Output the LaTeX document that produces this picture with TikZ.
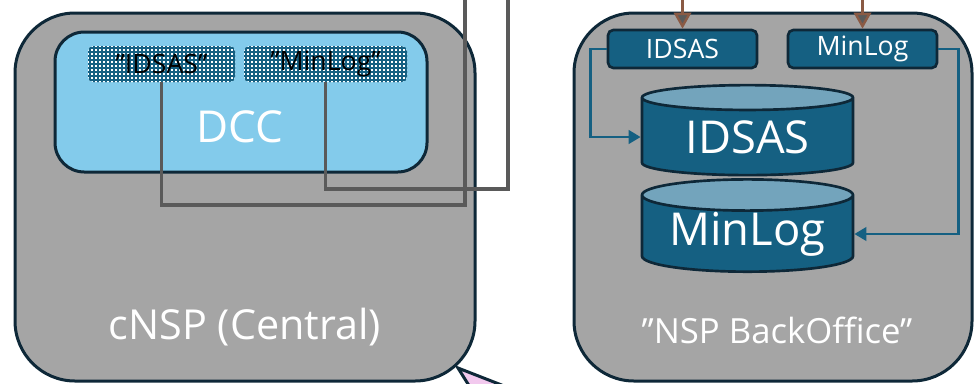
\documentclass[tikz,border=0pt]{standalone}
\usepackage{fontspec}
\setmainfont{Open Sans}
\usetikzlibrary{shapes.geometric}
\usetikzlibrary{arrows.meta,calc}

\definecolor{boxgray}{HTML}{A5A5A5}
\definecolor{navy}{HTML}{0E2838}
\definecolor{dccblue}{HTML}{83CBEB}
\definecolor{nspblue}{HTML}{156082}
\definecolor{nsplight}{HTML}{73A4BC}
\definecolor{linegray}{HTML}{5A5A5A}
\definecolor{feedbrown}{HTML}{8A5A44}
\definecolor{calloutpink}{HTML}{F2C9EE}

\tikzset{
  sitebox/.style={rectangle, rounded corners=45pt, fill=boxgray, draw=navy, line width=2.25pt},
  sitetext/.style={text=white, inner sep=0pt},
  tagbox/.style={rectangle, rounded corners=4pt, fill=white, minimum height=27pt, inner sep=0pt, font=\fontsize{20}{24}\selectfont,
    path picture={\foreach \i in {0,...,41} \foreach \j in {0,...,9}
      \fill [nspblue] ($(path picture bounding box.north west)+(\i*4+1.2,\j*4+1.2)$) rectangle ++(1.6,1.6);}},
  tablebox/.style={rectangle, rounded corners=4pt, fill=nspblue, draw=navy, line width=2pt, minimum width=111.75pt, minimum height=28.5pt, inner sep=0pt, text=white, font=\fontsize{20}{24}\selectfont},
  store/.style={cylinder, shape border rotate=90, aspect=0.2, cylinder uses custom fill, cylinder body fill=nspblue, cylinder end fill=nsplight, draw=navy, line width=2pt, minimum width=158.25pt, inner sep=0pt, text=white, font=\fontsize{34}{38}\selectfont},
  feed/.style={draw=linegray, line width=2.6pt},
  push/.style={draw=feedbrown, line width=1.8pt, -{Triangle[length=12pt,width=13pt,fill=linegray]}},
  dbflow/.style={draw=nspblue, line width=2.2pt, -{Triangle[length=9pt,width=10pt]}}
}

\begin{document}
\begin{tikzpicture}[x=0.75pt,y=-0.75pt]
\clip (0,0) rectangle (974,383);

%-----------------------------------------------------
% central site
\node (central) at (245,197) [sitebox, minimum width=345pt, minimum height=276pt] {};
\node (centralText) at (245,327) [sitetext, font=\fontsize{31}{34}\selectfont] {cNSP (Central)};

\node (dcc) at (241,102) [rectangle, rounded corners=22pt, fill=dccblue, draw=navy, line width=2.25pt, minimum width=279pt, minimum height=105pt] {};
\node (dccText) at (240,127) [sitetext, font=\fontsize{33}{36}\selectfont] {DCC};

\node (tagIdsas) at (161.5,64) [tagbox, minimum width=110.25pt] {”IDSAS”};
\node (tagMinlog) at (325.5,64) [tagbox, minimum width=122.25pt] {”MinLog”};

%-----------------------------------------------------
% back office
\node (office) at (773,197) [sitebox, minimum width=298.5pt, minimum height=276pt] {};
\node (officeText) at (777,330) [sitetext, font=\fontsize{26}{30}\selectfont] {”NSP BackOffice”};

\node (boxIdsas) at (682.5,49) [tablebox] {IDSAS};
\node (boxMinlog) at (862.5,49) [tablebox] {MinLog};

\node (cylIdsas) at (747.5,137) [store, minimum height=67.5pt] {IDSAS};
\node (cylMinlog) at (747.5,234) [store, minimum height=69pt] {MinLog};

%-----------------------------------------------------
% connectors
\coordinate (exitA) at (465,-5);
\coordinate (exitB) at (508,-5);
\coordinate (bendA) at (465,205);
\coordinate (bendB) at (508,189);
\draw [feed] (tagIdsas.south) |- (bendA) -- (exitA);
\draw [feed] (tagMinlog.south) |- (bendB) -- (exitB);

\coordinate (inA) at (682.5,-5);
\coordinate (inB) at (862.5,-5);
\draw [push] (inA) -- (boxIdsas.north);
\draw [push] (inB) -- (boxMinlog.north);

\draw [dbflow] (boxIdsas.west) -- ++(-16,0) |- (cylIdsas.west);
\draw [dbflow] (boxMinlog.east) -- ++(20,0) |- (cylMinlog.east);

%-----------------------------------------------------
\filldraw [fill=calloutpink, draw=navy, line width=2.25pt] (458,368) -- (540,400) -- (478,400) -- cycle;

\end{tikzpicture}
\end{document}
